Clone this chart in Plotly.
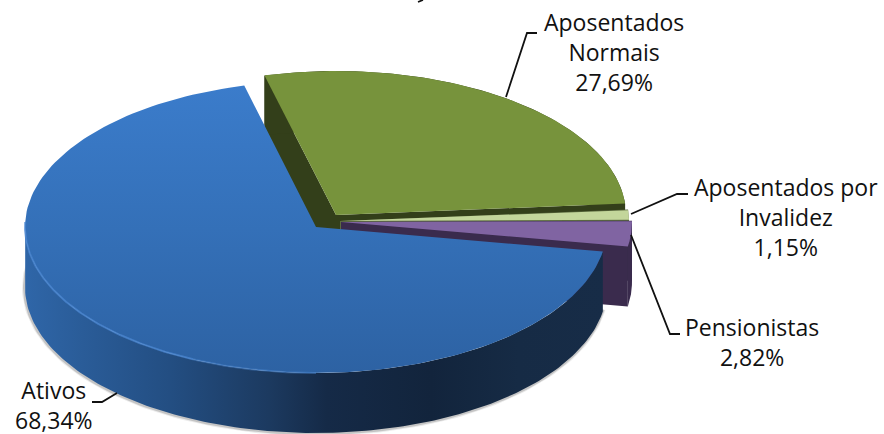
import numpy as np
import plotly.graph_objects as go

# ---- data ----
categories = ["Ativos", "Pensionistas", "Aposentados por Invalidez", "Aposentados Normais"]
values = [68.34, 2.82, 1.15, 27.69]
label_lines = ["Ativos<br>68,34%", "Pensionistas<br>2,82%",
               "Aposentados por<br>Invalidez<br>1,15%", "Aposentados<br>Normais<br>27,69%"]

# ---- layout of the exploded, tilted pie ----
FIRST_ANGLE = 99.7      # clockwise from 12 o'clock, edge shared by Ativos and Pensionistas
DEPTH = 60
CENTERS = {"Ativos": (316, 227, 291, 146),
           "Pensionistas": (341, 222, 291, 146),
           "Aposentados por Invalidez": (340, 221, 289, 144),
           "Aposentados Normais": (336, 215, 290, 144)}
TOP = {"Ativos": None, "Pensionistas": "#8064a2",
       "Aposentados por Invalidez": "#c3d69b", "Aposentados Normais": "#77933c"}
SIDE = {"Pensionistas": "#3a2b4d", "Aposentados por Invalidez": "#5c6b40",
        "Aposentados Normais": "#333f1a"}

# angular span of each slice: Ativos runs clockwise from FIRST_ANGLE, others counter-clockwise
spans = {}
a = FIRST_ANGLE
spans["Ativos"] = (a, a + values[0] * 3.6)
for name, v in zip(categories[1:], values[1:]):
    spans[name] = (a - v * 3.6, a)
    a -= v * 3.6


def rim(name, a0, a1, n=160):
    cx, cy, rx, ry = CENTERS[name]
    t = np.radians(np.linspace(a0, a1, n))
    return cx + rx * np.sin(t), cy - ry * np.cos(t)


def poly(x, y, color=None, grad=None, line=None, width=0):
    kw = dict(x=list(x), y=list(y), mode="lines", fill="toself", hoverinfo="skip",
              showlegend=False, line=dict(width=width, color=line or "rgba(0,0,0,0)"))
    if grad:
        kw["fillgradient"] = grad
        kw["fillcolor"] = None
    else:
        kw["fillcolor"] = color
    return go.Scatter(**kw)


def wall(name, a0, a1):
    x, y = rim(name, a0, a1)
    return np.r_[x, x[::-1]], np.r_[y, y[::-1] + DEPTH]


def wedge(name, a0, a1):
    x, y = rim(name, a0, a1)
    cx, cy = CENTERS[name][:2]
    return np.r_[cx, x, cx], np.r_[cy, y, cy]


def cut(name, ang):
    x, y = rim(name, ang, ang, 1)
    cx, cy = CENTERS[name][:2]
    return [cx, x[0], x[0], cx, cx], [cy, y[0], y[0] + DEPTH, cy + DEPTH, cy]


fig = go.Figure()

# soft shadow under the walls
b0, b1 = spans["Ativos"]
for w, op in [(5, 0.10), (3, 0.22)]:
    sx, sy = rim("Ativos", b0 - 1, min(b1, 285))
    fig.add_trace(go.Scatter(x=sx - 0.5, y=sy + DEPTH + 0.5, mode="lines", hoverinfo="skip", showlegend=False,
                             line=dict(color=f"rgba(60,60,60,{op})", width=w)))

# back-to-front: Normais, Invalidez, Pensionistas, Ativos
for name in ["Aposentados Normais", "Aposentados por Invalidez", "Pensionistas"]:
    a0, a1 = spans[name]
    fig.add_trace(poly(*cut(name, a0), color=SIDE[name]))
    fig.add_trace(poly(*cut(name, a1), color=SIDE[name]))
    fig.add_trace(poly(*wall(name, a0, a1), color=SIDE[name]))
    fig.add_trace(poly(*wedge(name, a0, a1), color=TOP[name]))

# Ativos wall and top surface
wx, wy = wall("Ativos", b0, min(b1, 272))
fig.add_trace(poly(wx, wy, grad=dict(
    type="horizontal", start=25, stop=605,
    colorscale=[[0, "#2f66a8"], [0.1, "#2a5c98"], [0.25, "#234e82"], [0.42, "#1c3a60"],
                [0.52, "#152a47"], [0.7, "#12243c"], [0.85, "#162b45"], [1, "#172c47"]])))
tx, ty = wedge("Ativos", b0, b1)
fig.add_trace(poly(tx, ty, grad=dict(
    type="vertical", start=85, stop=373,
    colorscale=[[0, "#3b7ccb"], [0.5, "#3470b8"], [1, "#2d62a3"]])))

# light rim along the lower-left of the Ativos top surface
for a0_, a1_, col, w in [(180, 205, "rgba(74,134,208,0.5)", 2), (205, 272, "rgba(74,134,208,0.75)", 2)]:
    hx, hy = rim("Ativos", a0_, a1_)
    fig.add_trace(go.Scatter(x=hx, y=hy, mode="lines", hoverinfo="skip", showlegend=False,
                             line=dict(color=col, width=w)))

# labels
FONT = dict(family="Open Sans", size=23, color="#111111")
LABEL_POS = {"Ativos": (54, 405), "Pensionistas": (752, 342),
             "Aposentados por Invalidez": (786, 217), "Aposentados Normais": (614, 52)}
for name, text in zip(categories, label_lines):
    lx, ly = LABEL_POS[name]
    fig.add_annotation(x=lx, y=ly, text=text, showarrow=False, font=FONT, align="center",
                       xanchor="center", yanchor="middle", xref="x", yref="y")

# leader lines, and the sliver of the cropped title at the top edge
LEADERS = [[(506, 97), (527, 33), (537, 33)], [(631, 214), (677, 194), (688, 194)],
           [(631, 235), (670, 334), (680, 334)], [(117, 393), (102, 402), (92, 402)],
           [(418, 2), (423, 0)]]
for pts in LEADERS:
    xs, ys = zip(*pts)
    fig.add_trace(go.Scatter(x=xs, y=ys, mode="lines", hoverinfo="skip", showlegend=False,
                             line=dict(color="#111111", width=1.8)))

fig.update_layout(width=884, height=434, margin=dict(l=0, r=0, t=0, b=0),
                  paper_bgcolor="white", plot_bgcolor="white", showlegend=False,
                  xaxis=dict(range=[0, 884], visible=False, fixedrange=True),
                  yaxis=dict(range=[434, 0], visible=False, fixedrange=True))
fig.write_html("out.html", config=dict(displayModeBar=False),
               post_script="document.body.style.margin='0';document.body.style.overflow='hidden';")
